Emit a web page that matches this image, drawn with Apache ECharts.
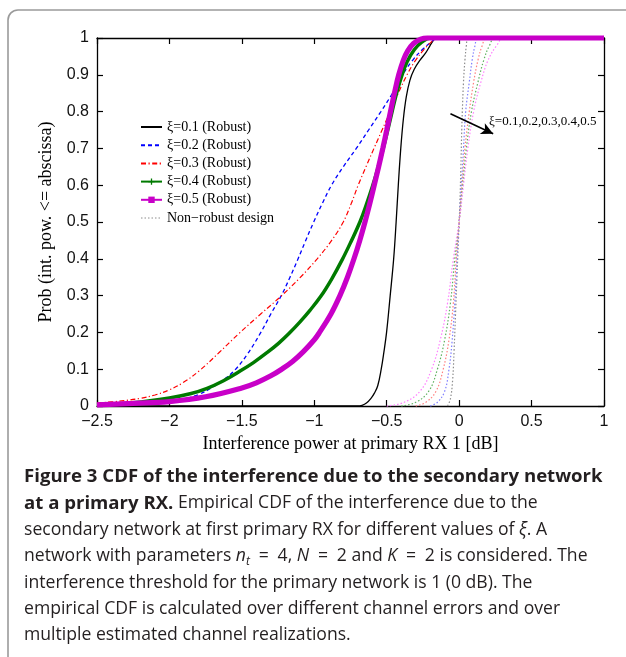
<!DOCTYPE html>
<html><head><meta charset="utf-8">
<script src="https://cdn.jsdelivr.net/npm/echarts@6/dist/echarts.min.js"></script>
<style>html,body{margin:0;padding:0;background:#fff;}#c{width:626px;height:657px;}</style>
</head><body><div id="c"></div><script>
// ---- data ----
var xTicks = [-2.5, -2, -1.5, -1, -0.5, 0, 0.5, 1];
var yTicks = [0, 0.1, 0.2, 0.3, 0.4, 0.5, 0.6, 0.7, 0.8, 0.9, 1];
var legendNames = ['ξ=0.1 (Robust)', 'ξ=0.2 (Robust)', 'ξ=0.3 (Robust)', 'ξ=0.4 (Robust)', 'ξ=0.5 (Robust)', 'Non−robust design'];

var robust01 = [[-2.5,0],[-0.7,0],[-0.67,0.002],[-0.64,0.008],[-0.61,0.02],[-0.585,0.035],[-0.562,0.055],[-0.538,0.1],[-0.52,0.145],[-0.501,0.2],[-0.476,0.3],[-0.452,0.4],[-0.435,0.5],[-0.42,0.6],[-0.403,0.7],[-0.385,0.78],[-0.365,0.84],[-0.34,0.885],[-0.31,0.915],[-0.27,0.94],[-0.23,0.96],[-0.2,0.98],[-0.175,0.995],[-0.16,1],[1,1]];
var robust02 = [[-2.5,0.002],[-2.25,0.005],[-2.0,0.012],[-1.9,0.019],[-1.8,0.031],[-1.715,0.048],[-1.63,0.07],[-1.543,0.1],[-1.46,0.142],[-1.372,0.198],[-1.3,0.25],[-1.225,0.302],[-1.17,0.348],[-1.114,0.398],[-1.06,0.449],[-1.004,0.5],[-0.945,0.55],[-0.881,0.6],[-0.8,0.65],[-0.71,0.7],[-0.625,0.75],[-0.54,0.8],[-0.46,0.85],[-0.39,0.9],[-0.32,0.94],[-0.25,0.97],[-0.19,0.99],[-0.15,1],[1,1]];
var robust03 = [[-2.5,0.008],[-2.35,0.013],[-2.2,0.021],[-2.1,0.03],[-2.0,0.044],[-1.9,0.065],[-1.79,0.097],[-1.655,0.146],[-1.52,0.197],[-1.37,0.25],[-1.225,0.3],[-1.1,0.348],[-0.98,0.4],[-0.88,0.45],[-0.8,0.5],[-0.745,0.55],[-0.697,0.6],[-0.643,0.65],[-0.588,0.7],[-0.532,0.75],[-0.476,0.8],[-0.42,0.85],[-0.36,0.9],[-0.3,0.94],[-0.24,0.97],[-0.19,0.99],[-0.16,1],[1,1]];
var robust04 = [[-2.5,0.003],[-2.25,0.009],[-2.0,0.022],[-1.85,0.034],[-1.74,0.048],[-1.63,0.068],[-1.52,0.093],[-1.42,0.118],[-1.32,0.147],[-1.245,0.171],[-1.175,0.197],[-1.1,0.228],[-1.03,0.26],[-0.955,0.298],[-0.88,0.345],[-0.808,0.397],[-0.745,0.448],[-0.685,0.5],[-0.64,0.548],[-0.6,0.595],[-0.562,0.645],[-0.526,0.697],[-0.494,0.748],[-0.464,0.798],[-0.432,0.85],[-0.398,0.895],[-0.36,0.935],[-0.31,0.968],[-0.26,0.988],[-0.2,1],[1,1]];
var robust05 = [[-2.5,0.003],[-2.25,0.007],[-2.0,0.012],[-1.75,0.025],[-1.5,0.049],[-1.4,0.063],[-1.3,0.082],[-1.225,0.1],[-1.15,0.121],[-1.077,0.147],[-1.0,0.18],[-0.967,0.198],[-0.885,0.25],[-0.823,0.3],[-0.771,0.35],[-0.726,0.4],[-0.686,0.45],[-0.65,0.5],[-0.617,0.55],[-0.586,0.6],[-0.556,0.65],[-0.527,0.7],[-0.5,0.75],[-0.474,0.8],[-0.447,0.85],[-0.417,0.9],[-0.385,0.94],[-0.355,0.965],[-0.315,0.985],[-0.265,0.997],[-0.22,1],[1,1]];

var nonRobust01 = [[-0.08,0],[-0.06,0.02],[-0.045,0.07],[-0.035,0.15],[-0.025,0.25],[-0.015,0.35],[-0.005,0.45],[0.005,0.55],[0.012,0.65],[0.018,0.75],[0.022,0.8],[0.03,0.88],[0.04,0.94],[0.05,0.98],[0.06,1],[1,1]];
var nonRobust02 = [[-0.2,0],[-0.15,0.01],[-0.1,0.04],[-0.07,0.1],[-0.05,0.17],[-0.03,0.28],[-0.015,0.4],[0,0.5],[0.015,0.6],[0.03,0.7],[0.045,0.8],[0.07,0.88],[0.09,0.94],[0.11,0.98],[0.13,1],[1,1]];
var nonRobust03 = [[-0.3,0],[-0.23,0.01],[-0.16,0.04],[-0.11,0.1],[-0.07,0.18],[-0.04,0.28],[-0.02,0.4],[0,0.5],[0.02,0.6],[0.04,0.7],[0.07,0.8],[0.1,0.88],[0.13,0.94],[0.16,0.98],[0.19,1],[1,1]];
var nonRobust04 = [[-0.4,0],[-0.3,0.01],[-0.21,0.04],[-0.15,0.1],[-0.1,0.18],[-0.06,0.28],[-0.03,0.4],[0,0.5],[0.025,0.6],[0.05,0.7],[0.085,0.8],[0.13,0.88],[0.17,0.94],[0.21,0.98],[0.25,1],[1,1]];
var nonRobust05 = [[-0.5,0],[-0.38,0.01],[-0.27,0.04],[-0.19,0.1],[-0.13,0.18],[-0.08,0.28],[-0.04,0.4],[0,0.5],[0.03,0.6],[0.06,0.7],[0.1,0.8],[0.15,0.88],[0.2,0.94],[0.26,0.98],[0.31,1],[1,1]];

var arrowFrom = [-0.06, 0.794];
var arrowTo = [0.235, 0.74];
var annotationText = 'ξ=0.1,0.2,0.3,0.4,0.5';

// ---- chart ----
var chart = echarts.init(document.getElementById('c'), null, {renderer: 'canvas'});
var serif = 'Liberation Serif';
var sans = 'Liberation Sans';

function fmtNum(v) {
  var n = Math.round(v * 100) / 100;
  return (n < 0 ? '−' : '') + String(Math.abs(n));
}

function line(name, data, color, width, type, extra) {
  var s = {
    name: name, type: 'line', data: data, xAxisIndex: 0, yAxisIndex: 0,
    symbol: 'none', showSymbol: false, clip: false, silent: true,
    smooth: 0.4,
    lineStyle: {color: color, width: width, type: type},
    itemStyle: {color: color},
    emphasis: {disabled: true}, animation: false
  };
  if (extra) for (var k in extra) s[k] = extra[k];
  return s;
}

var series = [
  line('Non−robust design', nonRobust01, '#8c8c8c', 1.2, [1.5, 2], {
    markLine: {
      silent: true, symbol: ['none', 'arrow'], symbolSize: [9, 12],
      label: {show: false},
      lineStyle: {color: '#000', width: 1.6, type: 'solid'},
      data: [[{coord: arrowFrom}, {coord: arrowTo}]],
      animation: false
    }
  }),
  line('NR ξ=0.2', nonRobust02, '#8080ff', 1.2, [1.5, 2]),
  line('NR ξ=0.3', nonRobust03, '#ff8080', 1.2, [1.5, 2]),
  line('NR ξ=0.4', nonRobust04, '#5fb05f', 1.2, [1.5, 2]),
  line('NR ξ=0.5', nonRobust05, '#ff80ff', 1.2, [1.5, 2]),
  line(legendNames[0], robust01, '#000000', 1.3, 'solid'),
  line(legendNames[1], robust02, '#0000ff', 1.3, [4, 3]),
  line(legendNames[2], robust03, '#ff0000', 1.2, [5, 2.5, 1.2, 2.5]),
  line(legendNames[3], robust04, '#007a00', 3.5, 'solid', {symbol: 'path://M4,0h2v4h4v2h-4v4h-2v-4h-4v-2h4z'}),
  line(legendNames[4], robust05, '#c800c8', 5.2, 'solid', {symbol: 'rect'})
];

var EQ = '\u2002=\u2002';
var cap = [
  '{b|Figure 3 CDF of the interference due to the secondary network}',
  '{b|at a primary RX.}{r| Empirical CDF of the interference due to the}',
  '{r|secondary network at first primary RX for different values of }{i|ξ}{r|. A}',
  '{r|network with parameters }{i|n}{s|t}{r|' + EQ + '4, }{i|N}{r|' + EQ + '2 and }{i|K}{r|' + EQ + '2 is considered. The}',
  '{r|interference threshold for the primary network is 1 (0 dB). The}',
  '{r|empirical CDF is calculated over different channel errors and over}',
  '{r|multiple estimated channel realizations.}'
];
var capFont = 'Open Sans';
var capSize = 17.6;
var capBold = 18.6;
var capColor = '#231f20';
var rich = {
  b: {fontFamily: capFont, fontWeight: 'bold', fontSize: capBold, fill: capColor, lineHeight: 24},
  r: {fontFamily: capFont, fontSize: capSize, fill: capColor, lineHeight: 24},
  i: {fontFamily: capFont, fontStyle: 'italic', fontSize: capSize, fill: capColor, lineHeight: 24},
  s: {fontFamily: capFont, fontStyle: 'italic', fontSize: 12, fill: capColor, lineHeight: 13, padding: [10, 0, 0, 0]}
};
var frameStyle = {stroke: '#9a9a9a', lineWidth: 1.6, fill: null};
var graphics = [
  {type: 'polyline', silent: true, shape: {points: [[8, 657], [8, 20]]}, style: frameStyle},
  {type: 'arc', silent: true, shape: {cx: 18, cy: 20, r: 10, startAngle: Math.PI, endAngle: 1.5 * Math.PI}, style: frameStyle},
  {type: 'polyline', silent: true, shape: {points: [[18, 10], [626, 10]]}, style: frameStyle},
  {type: 'text', silent: true, x: 489, y: 122,
   style: {text: annotationText, font: '13px "Liberation Serif"', fill: '#000', verticalAlign: 'middle'}}
];
for (var i = 0; i < cap.length; i++) {
  graphics.push({type: 'text', silent: true, x: 24, y: 477 + i * 26.4,
    style: {text: cap[i], rich: rich, verticalAlign: 'middle', align: 'left'}});
}

var axisCommon = {
  axisLine: {show: true, onZero: false, lineStyle: {color: '#000', width: 1.3}},
  axisTick: {show: true, inside: true, length: 6, lineStyle: {color: '#000', width: 1.2}},
  splitLine: {show: false}
};
function ax(o) { var r = {}; for (var k in axisCommon) r[k] = axisCommon[k]; for (var k2 in o) r[k2] = o[k2]; return r; }

var hideSym = {color: 'rgba(0,0,0,0)', borderColor: 'rgba(0,0,0,0)', borderWidth: 0};

chart.setOption({
  animation: false,
  backgroundColor: '#fff',
  grid: {left: 97, right: 22, top: 38, bottom: 251, containLabel: false},
  legend: {
    orient: 'vertical', left: 140, top: 120, padding: 0, itemWidth: 21, itemHeight: 8, itemGap: 4.2,
    selectedMode: false,
    textStyle: {fontFamily: serif, fontSize: 14, color: '#000', lineHeight: 14},
    data: [
      {name: legendNames[0], itemStyle: hideSym},
      {name: legendNames[1], itemStyle: hideSym},
      {name: legendNames[2], itemStyle: hideSym},
      {name: legendNames[3], lineStyle: {width: 2}},
      {name: legendNames[4], lineStyle: {width: 2}},
      {name: legendNames[5], lineStyle: {width: 1}, itemStyle: hideSym}
    ]
  },
  xAxis: [
    ax({type: 'value', position: 'bottom', min: xTicks[0], max: xTicks[xTicks.length - 1], interval: 0.5,
      name: 'Interference power at primary RX 1 [dB]', nameLocation: 'middle', nameGap: 24,
      nameTextStyle: {fontFamily: serif, fontSize: 18, color: '#000'},
      axisLabel: {show: true, margin: 8, fontFamily: sans, fontSize: 16, color: '#111', formatter: fmtNum}}),
    ax({type: 'value', position: 'top', min: xTicks[0], max: xTicks[xTicks.length - 1], interval: 0.5,
      axisLabel: {show: false}})
  ],
  yAxis: [
    ax({type: 'value', position: 'left', min: yTicks[0], max: yTicks[yTicks.length - 1], interval: 0.1,
      name: 'Prob (int. pow. <= abscissa)', nameLocation: 'middle', nameGap: 42,
      nameTextStyle: {fontFamily: serif, fontSize: 18, color: '#000'},
      axisLabel: {show: true, margin: 8, fontFamily: sans, fontSize: 16, color: '#111', formatter: fmtNum}}),
    ax({type: 'value', position: 'right', min: yTicks[0], max: yTicks[yTicks.length - 1], interval: 0.1,
      axisLabel: {show: false}})
  ],
  series: series,
  graphic: graphics
});
</script></body></html>
